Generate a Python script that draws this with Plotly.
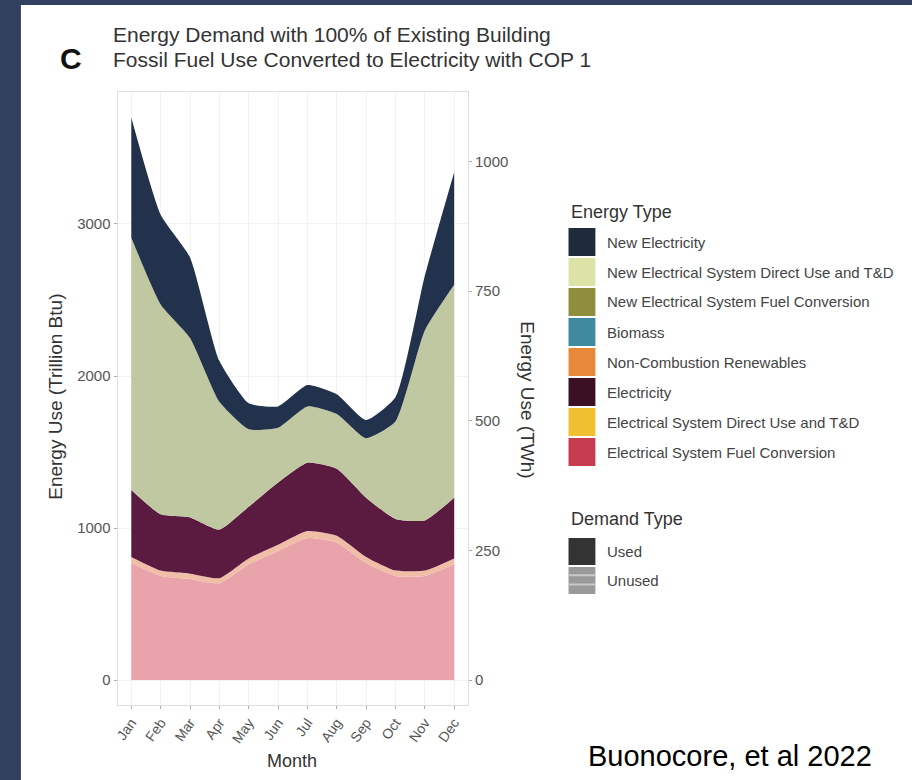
import plotly.graph_objects as go

W, H = 912, 780

months = ["Jan", "Feb", "Mar", "Apr", "May", "Jun",
          "Jul", "Aug", "Sep", "Oct", "Nov", "Dec"]
month_num = list(range(1, 13))

# Monthly energy use, trillion Btu, listed from the bottom of the stack up
elec_fuel_conversion = [770, 685, 665, 637, 762, 848, 934, 905, 770, 685, 685, 762]
elec_direct_use_td = [40, 35, 35, 33, 38, 42, 46, 45, 40, 35, 35, 38]
electricity = [440, 370, 370, 320, 340, 410, 450, 440, 390, 340, 330, 400]
new_fuel_conversion = [1660, 1380, 1180, 840, 510, 360, 370, 360, 390, 640, 1250, 1400]
new_electricity = [790, 590, 530, 270, 170, 140, 140, 130, 120, 160, 360, 740]

layer_names = ["Electrical System Fuel Conversion",
               "Electrical System Direct Use and T&D",
               "Electricity",
               "New Electrical System Fuel Conversion",
               "New Electricity"]
layer_values = [elec_fuel_conversion, elec_direct_use_td, electricity,
                new_fuel_conversion, new_electricity]
layer_fills = ["#e9a3ab", "#f0bda6", "#5b1b40", "#c0c8a1", "#22324c"]

left_ticks = [0, 1000, 2000, 3000]
left_tick_text = ["0", "1000", "2000", "3000"]
right_ticks = [0, 250, 500, 750, 1000]
right_tick_text = ["0", "250", "500", "750", "1000"]
TBTU_PER_TWH = 3.412

title_lines = ["Energy Demand with 100% of Existing Building",
               "Fossil Fuel Use Converted to Electricity with COP 1"]

energy_types = ["New Electricity",
                "New Electrical System Direct Use and T&D",
                "New Electrical System Fuel Conversion",
                "Biomass",
                "Non-Combustion Renewables",
                "Electricity",
                "Electrical System Direct Use and T&D",
                "Electrical System Fuel Conversion"]
energy_colors = ["#1f2b3a", "#dde3a6", "#8e8e3c", "#3f8a9e",
                 "#e8893a", "#3b0f24", "#f0c030", "#c83c50"]
demand_types = ["Used", "Unused"]
demand_colors = ["#333333", "#9a9a9a"]

FONT = "Liberation Sans, Arial, sans-serif"


def px(x):
    return x / W


def py(y):
    return 1 - y / H


fig = go.Figure()

for name, vals, fill in zip(layer_names, layer_values, layer_fills):
    fig.add_trace(go.Scatter(
        x=month_num, y=vals, name=name, stackgroup="energy", mode="lines",
        line=dict(width=0, shape="spline", smoothing=0.5),
        fillcolor=fill, showlegend=False))

# secondary scale in TWh carries the monthly total
totals = [sum(v) for v in zip(*layer_values)]
fig.add_trace(go.Scatter(
    x=month_num, y=[t / TBTU_PER_TWH for t in totals], yaxis="y2",
    mode="lines", line=dict(width=0, color="rgba(0,0,0,0)"),
    hoverinfo="skip", showlegend=False))

y_lo, y_hi = -164, 3868
tick_font = dict(family=FONT, size=15, color="#555")

fig.update_layout(
    width=W, height=H, autosize=False,
    margin=dict(l=0, r=0, t=0, b=0),
    paper_bgcolor="#31405f",
    plot_bgcolor="white",
    showlegend=False,
    xaxis=dict(domain=[px(114), px(466)], range=[0.53, 12.47],
               tickvals=month_num, ticktext=months, tickangle=-55,
               tickfont=dict(family=FONT, size=14, color="#555"),
               ticks="outside", ticklen=3, tickcolor="#aaa",
               showgrid=True, gridcolor="#f1f1f1",
               showline=True, mirror=True, linecolor="#dedede",
               zeroline=False, fixedrange=True),
    yaxis=dict(domain=[py(705), py(92)], range=[y_lo, y_hi],
               tickvals=left_ticks, ticktext=left_tick_text,
               tickfont=tick_font, ticks="outside", ticklen=3, tickcolor="#aaa",
               showgrid=True, gridcolor="#f3f3f3",
               showline=True, mirror=True, linecolor="#dedede",
               zeroline=False, fixedrange=True),
    yaxis2=dict(overlaying="y", side="right", anchor="x",
                range=[y_lo / TBTU_PER_TWH, y_hi / TBTU_PER_TWH],
                tickvals=right_ticks, ticktext=right_tick_text,
                tickfont=tick_font, ticks="outside", ticklen=3, tickcolor="#aaa",
                showgrid=False, showline=False, zeroline=False, fixedrange=True),
)

shapes = [dict(type="rect", xref="paper", yref="paper",
               x0=px(17), x1=1, y0=0, y1=py(5),
               fillcolor="white", line=dict(width=0), layer="below")]
annotations = []


def label(text, x, y, size, color="#333", xanchor="left", angle=0):
    annotations.append(dict(text=text, x=px(x), y=py(y), xref="paper", yref="paper",
                            showarrow=False, xanchor=xanchor, yanchor="middle",
                            textangle=angle, font=dict(family=FONT, size=size, color=color)))


# panel letter and two-line title
label("<b>C</b>", 67, 59, 30, color="#111", xanchor="center")
for i, line in enumerate(title_lines):
    label(line, 107, 35 + 25 * i, 21, color="#333")

# axis titles
label("Energy Use (Trillion Btu)", 51, 397, 19, xanchor="center", angle=-90)
label("Energy Use (TWh)", 525, 400, 19, xanchor="center", angle=90)
label("Month", 289, 761, 18, xanchor="center")

# legend: energy type
leg_x0, key_w, key_h = 567, 27, 30
label("Energy Type", leg_x0, 212, 18)
top = 227
for i, (lab, col) in enumerate(zip(energy_types, energy_colors)):
    y0 = top + i * key_h
    shapes.append(dict(type="rect", xref="paper", yref="paper",
                       x0=px(leg_x0), x1=px(leg_x0 + key_w),
                       y0=py(y0 + key_h - 1), y1=py(y0 + 1),
                       fillcolor=col, line=dict(width=0)))
    label(lab, leg_x0 + key_w + 10, y0 + key_h / 2, 15, color="#444")

# legend: demand type
label("Demand Type", leg_x0, 519, 18)
dtop = 537
for i, (lab, col) in enumerate(zip(demand_types, demand_colors)):
    y0 = dtop + i * 29
    shapes.append(dict(type="rect", xref="paper", yref="paper",
                       x0=px(leg_x0), x1=px(leg_x0 + key_w),
                       y0=py(y0 + 28), y1=py(y0 + 1),
                       fillcolor=col, line=dict(width=0)))
    if lab == "Unused":
        for f in (0.33, 0.66):
            shapes.append(dict(type="line", xref="paper", yref="paper",
                               x0=px(leg_x0), x1=px(leg_x0 + key_w),
                               y0=py(y0 + 28 * f), y1=py(y0 + 28 * f),
                               line=dict(color="#c8c8c8", width=2)))
    label(lab, leg_x0 + key_w + 10, y0 + 14, 15, color="#444")

# citation
label("Buonocore, et al 2022", 729, 756, 29, color="#000", xanchor="center")

fig.update_layout(shapes=shapes, annotations=annotations)
fig.write_html("out.html")
